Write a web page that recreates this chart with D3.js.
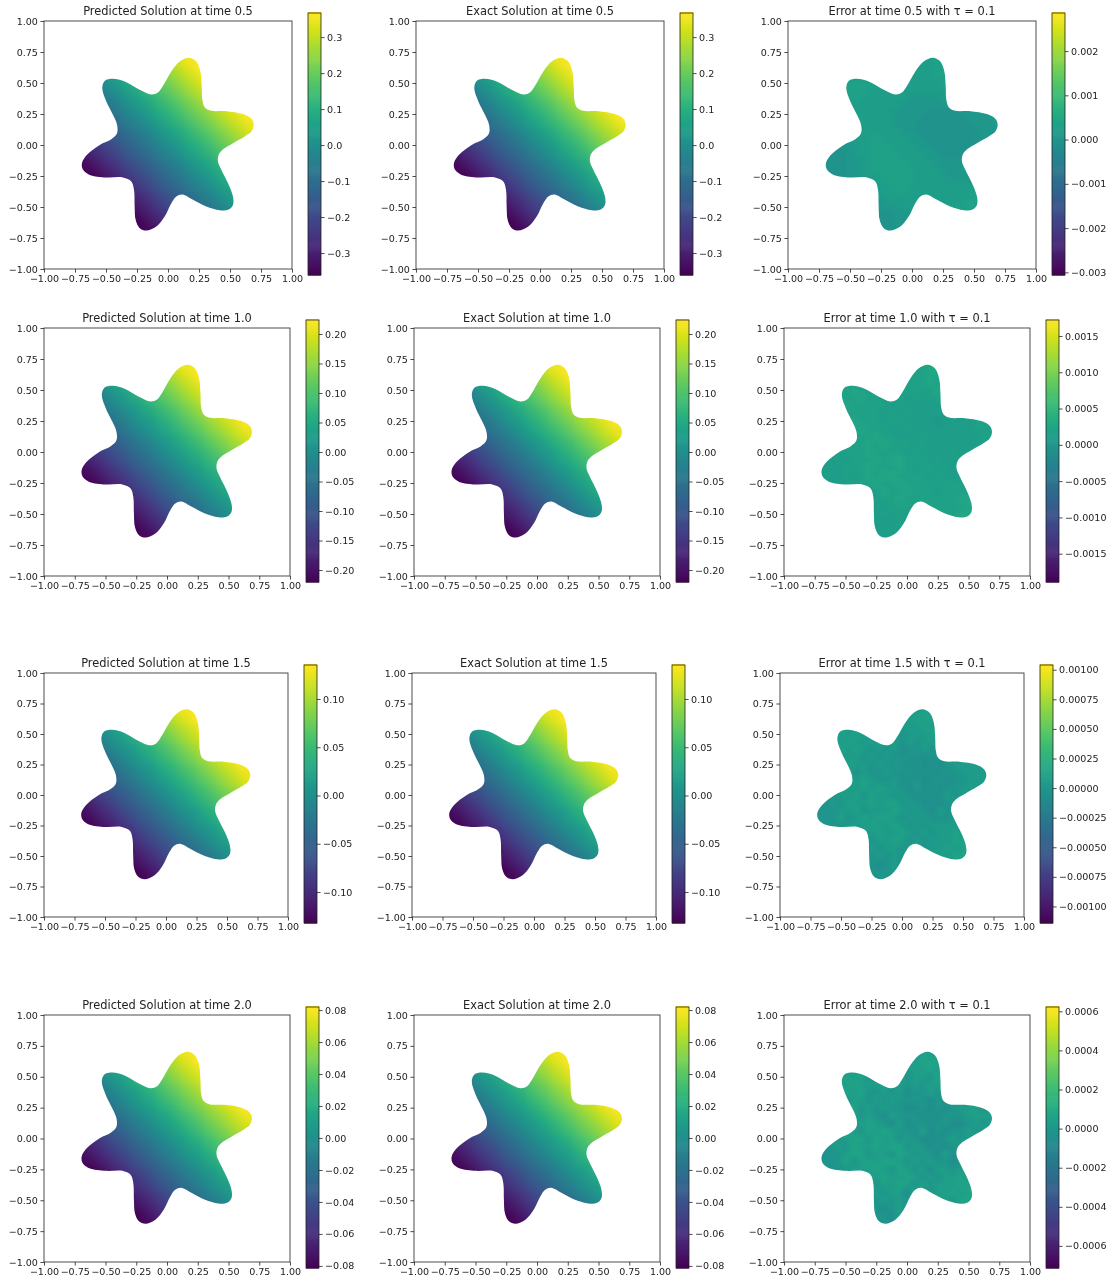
<!DOCTYPE html>
<html><head><meta charset="utf-8">
<script src="https://cdn.jsdelivr.net/npm/d3@7"></script>
<style>html,body{margin:0;padding:0;background:#fff}svg{display:block;filter:blur(0.35px)}text{font-family:"DejaVu Sans",sans-serif;fill:#222}</style>
</head><body><svg id="fig" width="1113" height="1281"></svg>
<script>
const times=["0.5","1.0","1.5","2.0"];
const axisTicks=[-1,-0.75,-0.5,-0.25,0,0.25,0.5,0.75,1];
const outline=[[0.169,0.703],[0.228,0.673],[0.261,0.593],[0.272,0.472],[0.277,0.364],[0.296,0.305],[0.349,0.276],[0.47,0.273],[0.605,0.249],[0.672,0.211],[0.691,0.163],[0.672,0.109],[0.618,0.069],[0.524,0.015],[0.449,-0.031],[0.409,-0.079],[0.403,-0.133],[0.43,-0.2],[0.484,-0.308],[0.524,-0.415],[0.524,-0.483],[0.484,-0.523],[0.417,-0.526],[0.309,-0.496],[0.202,-0.442],[0.116,-0.399],[0.067,-0.415],[0.027,-0.469],[-0.027,-0.577],[-0.094,-0.657],[-0.175,-0.69],[-0.228,-0.671],[-0.261,-0.603],[-0.269,-0.496],[-0.274,-0.362],[-0.296,-0.294],[-0.363,-0.262],[-0.497,-0.262],[-0.632,-0.241],[-0.685,-0.2],[-0.694,-0.147],[-0.653,-0.079],[-0.551,0.001],[-0.457,0.047],[-0.411,0.095],[-0.411,0.163],[-0.444,0.243],[-0.497,0.351],[-0.53,0.458],[-0.511,0.517],[-0.444,0.534],[-0.336,0.507],[-0.228,0.445],[-0.134,0.407],[-0.081,0.423],[-0.04,0.477],[0.027,0.593],[0.094,0.673]];
// normalised solution, x -0.75..0.75, y 0.75..-0.75, step 0.125 (percent of amplitude)
const solutionGrid=[
[0,15,29,44,58,73,87,100,100,100,100,100,100],
[-15,0,15,29,44,58,73,87,100,100,100,100,100],
[-29,-15,0,15,29,44,58,73,87,100,100,100,100],
[-44,-29,-15,0,15,29,44,58,73,87,100,100,100],
[-58,-44,-29,-15,0,15,29,44,58,73,87,100,100],
[-73,-58,-44,-29,-15,0,15,29,44,58,73,87,100],
[-87,-73,-58,-44,-29,-15,0,15,29,44,58,73,87],
[-100,-87,-73,-58,-44,-29,-15,0,15,29,44,58,73],
[-100,-100,-87,-73,-58,-44,-29,-15,0,15,29,44,58],
[-100,-100,-100,-87,-73,-58,-44,-29,-15,0,15,29,44],
[-100,-100,-100,-100,-87,-73,-58,-44,-29,-15,0,15,29],
[-100,-100,-100,-100,-100,-87,-73,-58,-44,-29,-15,0,15],
[-100,-100,-100,-100,-100,-100,-87,-73,-58,-44,-29,-15,0]];
const solutionMin=[-0.361,-0.2203,-0.1321,-0.0813];
const solutionMax=[0.367,0.2237,0.1352,0.0819];
const errorMin=[-0.00306,-0.00189,-0.00114,-0.000713];
const errorMax=[0.00286,0.00172,0.00104,0.000622];
const solutionTicks=[[-0.3,-0.2,-0.1,0,0.1,0.2,0.3],[-0.2,-0.15,-0.1,-0.05,0,0.05,0.1,0.15,0.2],[-0.1,-0.05,0,0.05,0.1],[-0.08,-0.06,-0.04,-0.02,0,0.02,0.04,0.06,0.08]];
const errorTicks=[[-0.003,-0.002,-0.001,0,0.001,0.002],[-0.0015,-0.001,-0.0005,0,0.0005,0.001,0.0015],[-0.001,-0.00075,-0.0005,-0.00025,0,0.00025,0.0005,0.00075,0.001],[-0.0006,-0.0004,-0.0002,0,0.0002,0.0004,0.0006]];
const solutionFormat=[".1f",".2f",".2f",".2f"];
const errorFormat=[".3f",".4f",".5f",".4f"];
// error levels per 0.0625 cell, x -0.6875..0.6875, y 0.6875..-0.6875
const errorLevels05=["55555555555555666666666","55555555555555666666666","55555555555555666666666","66666665555555566666666","66666655555555556666666","66666555555444455555555","66655555554444444445555","55555555544443333344445","55555555544433333334445","44455555554433333333444","44455566555443333333444","33445566655544333334444","33345566665554433344444","33344566666555444444445","33344566666655544444555","33344556666655554445555","33344455666655555555566","33344445566555555556666","33333444555555555566666","33333344445555555666666","33333333344455555666666","33333333344455556666666","33333333344455566666666"];
const errorLevels10=["66666666666666777777777","66666666666666777777777","66666666666666767777777","77667666666666676777777","77766766666565667677777","77676666656555556666666","67666666565655555656666","66667666566555545555666","66666766655655555555666","65666667665556555555566","66566676766656555555566","56566676666565555656666","55656667677666565566666","55566676667656656566666","55565676776666565566666","55556667667666666666677","55555666766766656666777","55555565667666666677777","55555556566666666667777","55555555656565666677777","55555555556566666677777","55555555556565667777777","55555555556566677777777"];
const errorLevels15=["66666666666666777777777","66666666666667777677777","66666666666666767677777","77676766666566676767777","77767666656565667677777","77676765656455656766666","67666656565555455656666","66767665655545454566666","66676565565554545556666","65666676556455455455666","66576676766546454556666","56566757665654545656666","55657667677565454566666","55566756667656546566666","55575676776565655566766","55556667667656566666677","55465666766765656676777","55556565667656566677777","54565556566576566767777","55455465656565676677777","55545555456566766677777","55554555556565667777777","55555454556566677777777"];
const errorLevels20=["66666666666657677667777","66666666766667776677777","66666666665666767676777","77676756666566576767777","76767666656565667577777","77676755656455656766666","67656656565555455656666","66767565655445454566657","65676565465554545556666","65666676546455455445656","66576576765546454556566","56567757665654445656666","55657667677565454566656","45567756657656546465666","55575676776565655456766","54556667657656466566677","55465566766765656676577","54556565667656566677677","54565456566476566767777","55455465656565676577677","55545555456566766677767","55554555546565667767777","55555454556566677777777"];
const errorLevels=[errorLevels05,errorLevels10,errorLevels15,errorLevels20];
const errorStep=[0.00012,0.00008,0.00006,0.00004];
const errorZeroLevel=[3.2,3.75,5,5.3];
const axLeft=[[44,416,788],[44,414,784],[44,412,780],[44,414,784]];
const axSize=[248,246,244,246];
const axTop=[21,328,673,1015];
const axBottom=[269,576,917,1262];
const cbTop=[13,320,665,1007];
const cbBottom=[275,582,923,1268];
const kinds=["Predicted Solution at time ","Exact Solution at time ","Error at time "];
const tickFont=9.55,titleFont=11.4;

const svg=d3.select("#fig");
const defs=svg.append("defs");
function imageFrom(rows,color){
  const h=rows.length,w=rows[0].length;
  const c=document.createElement("canvas");c.width=w;c.height=h;
  const g=c.getContext("2d");
  rows.forEach((r,j)=>r.forEach((v,i)=>{g.fillStyle=color(v);g.fillRect(i,j,1,1);}));
  return c.toDataURL();
}
times.forEach((t,ri)=>{
 kinds.forEach((kind,ci)=>{
  const isErr=ci===2;
  const L=axLeft[ri][ci],S=axSize[ri],T=axTop[ri],B=axBottom[ri];
  const x=d3.scaleLinear().domain([-1,1]).range([L,L+S]);
  const y=d3.scaleLinear().domain([-1,1]).range([B,T]);
  const vmin=isErr?errorMin[ri]:solutionMin[ri],vmax=isErr?errorMax[ri]:solutionMax[ri];
  const color=d3.scaleSequential(d3.interpolateViridis).domain([vmin,vmax]);
  const id=`star${ri}${ci}`;
  defs.append("clipPath").attr("id",id).append("path")
    .attr("d",d3.line().x(d=>x(d[0])).y(d=>y(d[1])).curve(d3.curveCatmullRomClosed.alpha(0.5))(outline));
  let rows,half;
  if(isErr){
    rows=errorLevels[ri].map(s=>s.split("").map(d=>(+d-errorZeroLevel[ri])*errorStep[ri]));
    half=0.6875+0.03125;
  }else{
    rows=solutionGrid.map(r=>r.map(v=>v/100*(v<0?-vmin:vmax)));
    half=0.75+0.0625;
  }
  svg.append("image").attr("href",imageFrom(rows,color))
    .attr("x",x(-half)).attr("y",y(half)).attr("width",x(half)-x(-half)).attr("height",y(-half)-y(half))
    .attr("preserveAspectRatio","none").attr("clip-path",`url(#${id})`);
  const fmt=d3.format(".2f");
  const gx=svg.append("g").attr("transform",`translate(0,${B})`).call(d3.axisBottom(x).tickValues(axisTicks).tickFormat(fmt).tickSize(3.6).tickPadding(2.5));
  const gy=svg.append("g").attr("transform",`translate(${L},0)`).call(d3.axisLeft(y).tickValues(axisTicks).tickFormat(fmt).tickSize(3.6).tickPadding(2.5));
  [gx,gy].forEach(g=>{g.select(".domain").remove();g.selectAll("text").attr("font-size",tickFont).attr("font-family",null);g.selectAll("line").attr("stroke","#222").attr("stroke-width",0.8);});
  svg.append("rect").attr("x",L).attr("y",T).attr("width",S).attr("height",B-T).attr("fill","none").attr("stroke","#222").attr("stroke-width",0.8);
  svg.append("text").attr("x",L+S/2).attr("y",T-6).attr("text-anchor","middle").attr("font-size",titleFont)
    .text(isErr?`${kind}${t} with τ = 0.1`:`${kind}${t}`);
  const cbL=L+S+16,cbW=13;
  const cy=d3.scaleLinear().domain([vmin,vmax]).range([cbBottom[ri],cbTop[ri]]);
  const steps=d3.range(0,256).map(k=>vmin+(vmax-vmin)*k/255);
  svg.append("g").selectAll("rect").data(steps).join("rect").attr("x",cbL).attr("width",cbW)
    .attr("y",d=>cy(d)-(cbBottom[ri]-cbTop[ri])/256).attr("height",(cbBottom[ri]-cbTop[ri])/256+0.6).attr("fill",d=>color(d));
  const ticks=isErr?errorTicks[ri]:solutionTicks[ri];
  const gc=svg.append("g").attr("transform",`translate(${cbL+cbW},0)`).call(d3.axisRight(cy).tickValues(ticks).tickFormat(d3.format(isErr?errorFormat[ri]:solutionFormat[ri])).tickSize(3.6).tickPadding(2.5));
  gc.select(".domain").remove();gc.selectAll("text").attr("font-size",tickFont).attr("font-family",null);gc.selectAll("line").attr("stroke","#222").attr("stroke-width",0.8);
  svg.append("rect").attr("x",cbL).attr("y",cbTop[ri]).attr("width",cbW).attr("height",cbBottom[ri]-cbTop[ri]).attr("fill","none").attr("stroke","#222").attr("stroke-width",0.8);
 });
});
</script></body></html>
